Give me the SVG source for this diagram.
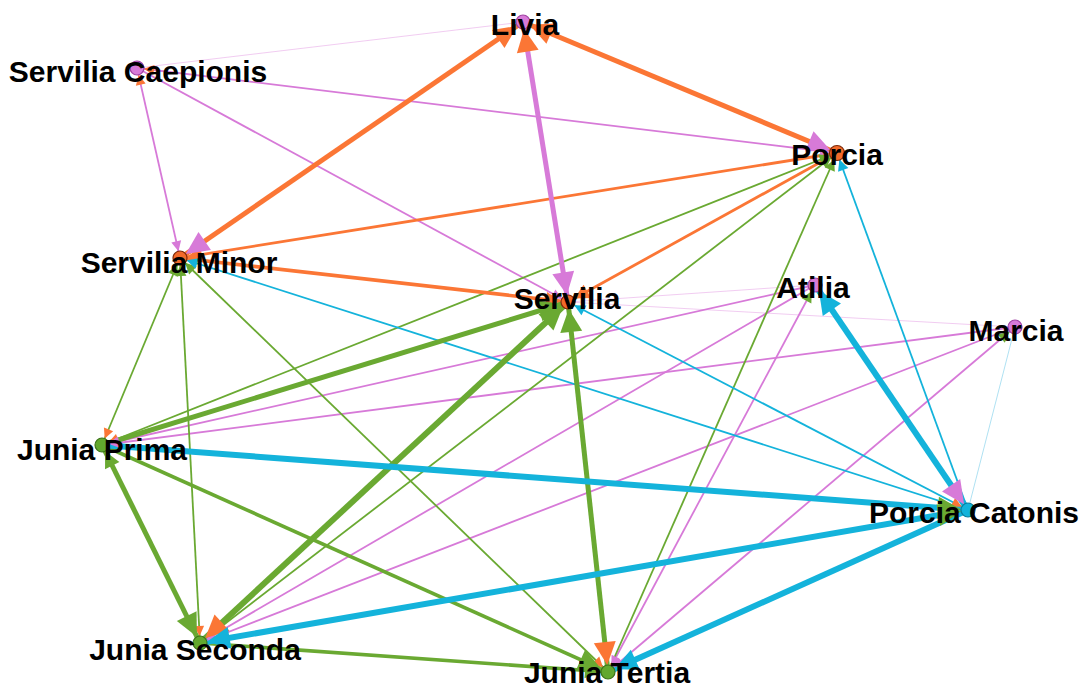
<svg xmlns="http://www.w3.org/2000/svg" width="1085" height="688" viewBox="0 0 1085 688">
  <style>
    .ln { fill: none; stroke-linecap: butt; }
    .p { stroke: #d77ad8; }
    .o { stroke: #fb7635; }
    .g { stroke: #6aa932; }
    .c { stroke: #14b3db; }
    .fp { stroke: #efc6ef; stroke-width: 0.9; }
    .fc { stroke: #a6def0; stroke-width: 0.9; }
    .w1 { stroke-width: 1.8; }
    .w2 { stroke-width: 2.8; }
    .w3 { stroke-width: 3.6; }
    .w4 { stroke-width: 5; }
    .w5 { stroke-width: 6; }
    .ar { fill: none; stroke: none; }
    .node circle { stroke-width: 1.2; }
    .np { fill: #d77ad8; stroke: #a043a3; }
    .no { fill: #f26a2a; stroke: #7d2a0a; }
    .ng { fill: #62a82e; stroke: #3c7419; }
    .nc { fill: #14b3db; stroke: #0b7d9c; }
    .lbl { font-family: "Liberation Sans", Arial, sans-serif; font-weight: bold; font-size: 30px; fill: #000; text-anchor: middle; }
  </style>
  <defs>
    <!-- arrowheads: tip sits 7px short of the node centre -->
    <marker id="aPS" markerUnits="userSpaceOnUse" orient="auto" overflow="visible" refX="17" refY="0" markerWidth="1" markerHeight="1"><path d="M0,-5 L10,0 L0,5z" fill="#d77ad8"/></marker>
    <marker id="aPL" markerUnits="userSpaceOnUse" orient="auto" overflow="visible" refX="30" refY="0" markerWidth="1" markerHeight="1"><path d="M0,-11 L23,0 L0,11z" fill="#d77ad8"/></marker>
    <marker id="aOS" markerUnits="userSpaceOnUse" orient="auto" overflow="visible" refX="17" refY="0" markerWidth="1" markerHeight="1"><path d="M0,-5 L10,0 L0,5z" fill="#fb7635"/></marker>
    <marker id="aOM" markerUnits="userSpaceOnUse" orient="auto" overflow="visible" refX="22" refY="0" markerWidth="1" markerHeight="1"><path d="M0,-7.5 L15,0 L0,7.5z" fill="#fb7635"/></marker>
    <marker id="aOL" markerUnits="userSpaceOnUse" orient="auto" overflow="visible" refX="30" refY="0" markerWidth="1" markerHeight="1"><path d="M0,-11 L23,0 L0,11z" fill="#fb7635"/></marker>
    <marker id="aGS" markerUnits="userSpaceOnUse" orient="auto" overflow="visible" refX="18" refY="0" markerWidth="1" markerHeight="1"><path d="M0,-5.5 L11,0 L0,5.5z" fill="#6aa932"/></marker>
    <marker id="aGM" markerUnits="userSpaceOnUse" orient="auto" overflow="visible" refX="23" refY="0" markerWidth="1" markerHeight="1"><path d="M0,-8 L16,0 L0,8z" fill="#6aa932"/></marker>
    <marker id="aGL" markerUnits="userSpaceOnUse" orient="auto" overflow="visible" refX="30" refY="0" markerWidth="1" markerHeight="1"><path d="M0,-11 L23,0 L0,11z" fill="#6aa932"/></marker>
    <marker id="aCS" markerUnits="userSpaceOnUse" orient="auto" overflow="visible" refX="18" refY="0" markerWidth="1" markerHeight="1"><path d="M0,-5.5 L11,0 L0,5.5z" fill="#14b3db"/></marker>
    <marker id="aCL" markerUnits="userSpaceOnUse" orient="auto" overflow="visible" refX="30" refY="0" markerWidth="1" markerHeight="1"><path d="M0,-11 L23,0 L0,11z" fill="#14b3db"/></marker>
  </defs>

  <rect width="1085" height="688" fill="#ffffff"/>

  <g id="connectors">
    <g id="edge-lines" class="ln">
      <!-- faint ties -->
      <path class="fp" d="M137,68 L523,22"/>
      <path class="fp" d="M815,285 L568,302"/>
      <path class="fp" d="M1015,327 L568,302"/>
      <path class="fc" d="M1015,327 L968,510"/>
      <!-- thin purple -->
      <path class="p w1" d="M137,68 L837,153"/>
      <path class="p w1" d="M137,68 L180,258"/>
      <path class="p w1" d="M137,68 L568,302"/>
      <path class="p w1" d="M815,285 L102,445"/>
      <path class="p w1" d="M815,285 L200,643"/>
      <path class="p w1" d="M815,285 L608,672"/>
      <path class="p w1" d="M1015,327 L102,445"/>
      <path class="p w1" d="M1015,327 L200,643"/>
      <path class="p w1" d="M1015,327 L608,672"/>
      <!-- thin green -->
      <path class="g w1" d="M102,445 L837,153"/>
      <path class="g w1" d="M200,643 L837,153"/>
      <path class="g w1" d="M608,672 L837,153"/>
      <path class="g w1" d="M102,445 L180,258"/>
      <path class="g w1" d="M200,643 L180,258"/>
      <path class="g w1" d="M608,672 L180,258"/>
      <!-- thin cyan -->
      <path class="c w1" d="M968,510 L837,153"/>
      <path class="c w1" d="M968,510 L180,258"/>
      <path class="c w1" d="M968,510 L568,302"/>
      <!-- orange -->
      <path class="o w2" d="M837,153 L180,258"/>
      <path class="o w2" d="M837,153 L568,302"/>
      <path class="o w3" d="M180,258 L568,302"/>
      <!-- heavy green -->
      <path class="g w4" d="M102,445 L568,302"/>
      <path class="g w5" d="M200,643 L568,302"/>
      <path class="g w4" d="M608,672 L568,302"/>
      <path class="g w4" d="M200,643 L102,445"/>
      <path class="g w3" d="M102,445 L608,672"/>
      <path class="g w3" d="M200,643 L608,672"/>
      <!-- heavy cyan -->
      <path class="c w5" d="M968,510 L815,285"/>
      <path class="c w5" d="M968,510 L102,445"/>
      <path class="c w5" d="M968,510 L200,643"/>
      <path class="c w5" d="M968,510 L608,672"/>
      <!-- heavy ties around Livia -->
      <path class="p w4" d="M523,22 L568,302"/>
      <path class="o w4" d="M180,258 L523,22"/>
      <path class="o w4" d="M837,153 L523,22"/>
    </g>
    <g id="edge-arrows" class="ar">
      <!-- Livia -->
      <path d="M180,258 L523,22" marker-end="url(#aOL)"/>
      <path d="M568,302 L523,22" marker-end="url(#aOL)"/>
      <path d="M837,153 L523,22" marker-end="url(#aOL)"/>
      <!-- Servilia Caepionis -->
      <path d="M837,153 L137,68" marker-end="url(#aOS)"/>
      <path d="M180,258 L137,68" marker-end="url(#aOS)"/>
      <!-- Porcia -->
      <path d="M137,68 L837,153" marker-end="url(#aPS)"/>
      <path d="M102,445 L837,153" marker-end="url(#aGS)"/>
      <path d="M200,643 L837,153" marker-end="url(#aGS)"/>
      <path d="M608,672 L837,153" marker-end="url(#aGS)"/>
      <path d="M968,510 L837,153" marker-end="url(#aCS)"/>
      <path d="M523,22 L837,153" marker-end="url(#aPL)"/>
      <!-- Servilia Minor -->
      <path d="M137,68 L180,258" marker-end="url(#aPS)"/>
      <path d="M837,153 L180,258" marker-end="url(#aOM)"/>
      <path d="M102,445 L180,258" marker-end="url(#aGS)"/>
      <path d="M200,643 L180,258" marker-end="url(#aGS)"/>
      <path d="M608,672 L180,258" marker-end="url(#aGS)"/>
      <path d="M968,510 L180,258" marker-end="url(#aCS)"/>
      <path d="M523,22 L180,258" marker-end="url(#aPL)"/>
      <!-- Servilia -->
      <path d="M137,68 L568,302" marker-end="url(#aPS)"/>
      <path d="M968,510 L568,302" marker-end="url(#aCS)"/>
      <path d="M180,258 L568,302" marker-end="url(#aOM)"/>
      <path d="M837,153 L568,302" marker-end="url(#aOM)"/>
      <path d="M102,445 L568,302" marker-end="url(#aGL)"/>
      <path d="M200,643 L568,302" marker-end="url(#aGL)"/>
      <path d="M608,672 L568,302" marker-end="url(#aGL)"/>
      <path d="M523,22 L568,302" marker-end="url(#aPL)"/>
      <!-- Atilia, Marcia -->
      <path d="M608,672 L815,285" marker-end="url(#aGS)"/>
      <path d="M968,510 L815,285" marker-end="url(#aCL)"/>
      <path d="M608,672 L1015,327" marker-end="url(#aGS)"/>
      <!-- Junia Prima -->
      <path d="M837,153 L102,445" marker-end="url(#aOS)"/>
      <path d="M180,258 L102,445" marker-end="url(#aOS)"/>
      <path d="M815,285 L102,445" marker-end="url(#aPS)"/>
      <path d="M1015,327 L102,445" marker-end="url(#aPS)"/>
      <path d="M200,643 L102,445" marker-end="url(#aGM)"/>
      <!-- Porcia Catonis -->
      <path d="M568,302 L968,510" marker-end="url(#aOS)"/>
      <path d="M102,445 L968,510" marker-end="url(#aGL)"/>
      <path d="M200,643 L968,510" marker-end="url(#aGL)"/>
      <path d="M815,285 L968,510" marker-end="url(#aPL)"/>
      <!-- Junia Seconda -->
      <path d="M180,258 L200,643" marker-end="url(#aOS)"/>
      <path d="M815,285 L200,643" marker-end="url(#aPS)"/>
      <path d="M1015,327 L200,643" marker-end="url(#aPS)"/>
      <path d="M568,302 L200,643" marker-end="url(#aOL)"/>
      <path d="M102,445 L200,643" marker-end="url(#aGL)"/>
      <path d="M968,510 L200,643" marker-end="url(#aCL)"/>
      <!-- Junia Tertia -->
      <path d="M180,258 L608,672" marker-end="url(#aOS)"/>
      <path d="M815,285 L608,672" marker-end="url(#aPS)"/>
      <path d="M1015,327 L608,672" marker-end="url(#aPS)"/>
      <path d="M200,643 L608,672" marker-end="url(#aGM)"/>
      <path d="M102,445 L608,672" marker-end="url(#aGL)"/>
      <path d="M568,302 L608,672" marker-end="url(#aOL)"/>
      <path d="M968,510 L608,672" marker-end="url(#aCL)"/>
    </g>
  </g>

  <g id="livia" class="node"><circle class="np" cx="523" cy="22" r="7"/><text class="lbl" x="525" y="35">Livia</text></g>
  <g id="servilia-caepionis" class="node"><circle class="np" cx="137" cy="68" r="7"/><text class="lbl" x="138" y="82">Servilia Caepionis</text></g>
  <g id="porcia" class="node"><circle class="no" cx="837" cy="153" r="7.5"/><text class="lbl" x="837" y="165">Porcia</text></g>
  <g id="servilia-minor" class="node"><circle class="no" cx="180" cy="258" r="7"/><text class="lbl" x="179" y="273">Servilia Minor</text></g>
  <g id="servilia" class="node"><circle class="no" cx="568" cy="302" r="7"/><text class="lbl" x="567" y="309">Servilia</text></g>
  <g id="atilia" class="node"><circle class="np" cx="815" cy="285" r="7"/><text class="lbl" x="813" y="298">Atilia</text></g>
  <g id="marcia" class="node"><circle class="np" cx="1015" cy="327" r="7"/><text class="lbl" x="1016" y="341">Marcia</text></g>
  <g id="junia-prima" class="node"><circle class="ng" cx="102" cy="445" r="7"/><text class="lbl" x="102" y="460">Junia Prima</text></g>
  <g id="porcia-catonis" class="node"><circle class="nc" cx="968" cy="510" r="7"/><text class="lbl" x="974" y="523">Porcia Catonis</text></g>
  <g id="junia-seconda" class="node"><circle class="ng" cx="200" cy="643" r="7"/><text class="lbl" x="195" y="660">Junia Seconda</text></g>
  <g id="junia-tertia" class="node"><circle class="ng" cx="608" cy="672" r="7"/><text class="lbl" x="607" y="683">Junia Tertia</text></g>
</svg>
